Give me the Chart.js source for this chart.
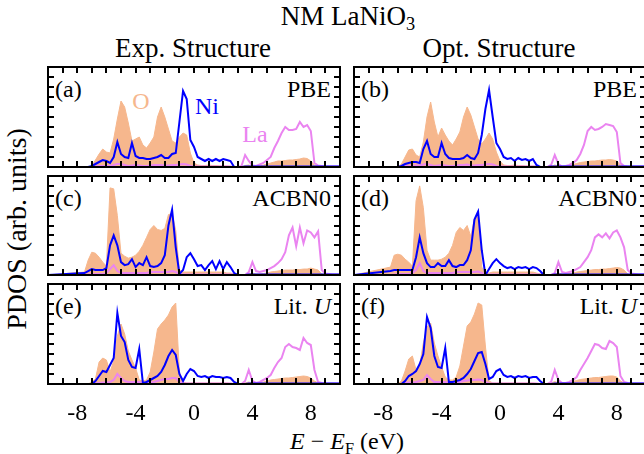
<!DOCTYPE html>
<html><head><meta charset="utf-8">
<script src="https://cdn.jsdelivr.net/npm/chart.js@4"></script>
<style>
html,body{margin:0;padding:0;background:#fff;}
body{width:644px;height:454px;overflow:hidden;position:relative;font-family:"Liberation Serif","Times New Roman",serif;}
.t{position:absolute;white-space:nowrap;color:#000;font-size:24px;line-height:1;}
.c{transform:translate(-50%,-50%);}
.r{transform:translateX(-100%);}
sub{font-size:0.68em;vertical-align:-0.3em;line-height:0;}
canvas{position:absolute;}
</style></head><body>
<div class="t c" style="left:348px;top:16px;font-size:27px;">NM LaNiO<sub>3</sub></div>
<div class="t c" style="left:193px;top:48px;font-size:27px;">Exp. Structure</div>
<div class="t c" style="left:499px;top:48px;font-size:27px;">Opt. Structure</div>
<div class="t" style="left:17px;top:229px;font-size:28px;transform:translate(-50%,-50%) rotate(-90deg);">PDOS (arb. units)</div>
<div class="t c" style="left:347px;top:441px;"><i>E</i> − <i>E</i><sub>F</sub> (eV)</div>
<div id="labels"></div>
<script>
const energy = [-10,
 -7.5,-7.25,-7,-6.75,-6.5,-6.25,-6,-5.75,
 -5.5,-5.25,-5,-4.75,-4.5,-4.25,-4,-3.75,
 -3.5,-3.25,-3,-2.75,-2.5,-2.25,-2,-1.75,
 -1.5,-1.25,-1,-0.75,-0.5,-0.25,0,0.25,
 0.5,0.75,1,1.25,1.5,1.75,2,2.25,
 2.5,2.75,3,3.25,3.5,3.75,4,4.25,
 4.5,4.75,5,5.25,5.5,5.75,6,6.25,
 6.5,6.75,7,7.25,7.5,7.75,8,8.25,
 8.5,8.75,9,9.25,9.5,9.75,10];

const tickLabels = ["-8","-4","0","4","8"];
const panelLetters = ["(a)","(b)","(c)","(d)","(e)","(f)"];
const methods = ["PBE","PBE","ACBN0","ACBN0","Lit. <i>U</i>","Lit. <i>U</i>"];
const speciesNames = ["O","Ni","La"];

// (a) PBE, Exp.
const O_a = [0,
 0,0,0.1,0.7,1.3,1.8,1.5,1.4,
 2.8,4.8,6.6,6.0,4.4,2.6,2.8,3.0,
 2.2,1.9,2.4,3.0,5.0,6.0,5.0,3.8,
 2.6,2.4,3.0,3.4,3.2,1.4,0.4,0.2,
 0.15,0.15,0.2,0.15,0.15,0.1,0.1,0.1,
 0.05,0,0,0,0.15,0.2,0.05,0.05,
 0.1,0.2,0.3,0.4,0.5,0.6,0.6,0.65,
 0.7,0.7,0.75,0.8,0.9,0.85,0.6,0.2,
 0.1,0.05,0.05,0.05,0.05,0.05,0.05];
const Ni_a = [0,
 0,0,0.1,0.3,0.5,0.7,0.6,0.4,
 1.0,2.5,1.3,1.0,0.9,2.4,1.1,0.9,
 0.9,0.8,0.8,0.9,1.0,1.2,0.9,0.9,
 1.3,1.4,4.5,7.6,6.8,2.7,2.0,1.0,
 0.8,0.6,0.8,0.6,0.8,0.6,0.8,0.7,
 0.6,0,0,0,0.05,0.05,0.05,0.05,
 0.05,0.05,0.05,0.05,0.05,0.05,0.05,0.05,
 0.05,0.05,0.05,0.05,0.05,0.05,0.05,0.05,
 0.05,0.05,0.05,0.05,0.05,0.05,0.05];
const La_a = [0,
 0,0,0,0.05,0.1,0.1,0.1,0.1,
 0.2,0.3,0.3,0.2,0.1,0.15,0.2,0.15,
 0.1,0.1,0.15,0.2,0.2,0.2,0.15,0.15,
 0.2,0.2,0.25,0.3,0.25,0.1,0.05,0.05,
 0.05,0.05,0.05,0.05,0.05,0.05,0.05,0.05,
 0.05,0,0,0.1,1.2,0.6,0.15,0.1,
 0.25,0.4,0.7,1.0,1.9,2.6,3.4,4.0,
 3.7,3.7,3.8,4.5,4.0,4.2,3.6,0.4,
 0.15,0.1,0.05,0.05,0.05,0.05,0.05];

// (b) PBE, Opt.
const O_b = [0,
 0,0,0,0.3,1.0,1.7,1.8,1.2,
 1.0,2.5,5.0,6.5,4.5,3.0,3.9,3.2,
 2.6,2.2,2.8,3.5,5.0,6.0,5.2,4.0,
 2.8,2.3,2.8,3.4,2.8,1.5,0.6,0.2,
 0.15,0.15,0.2,0.15,0.15,0.1,0.1,0.1,
 0.05,0,0,0,0.05,0.2,0.1,0.05,
 0.1,0.15,0.25,0.35,0.45,0.5,0.55,0.6,
 0.6,0.65,0.7,0.7,0.75,0.7,0.6,0.2,
 0.1,0.05,0.05,0.05,0.05,0.05,0.05];
const Ni_b = [0,
 0,0,0,0.1,0.3,0.4,0.5,0.5,
 0.4,1.8,2.6,1.3,1.0,1.0,2.4,1.3,
 0.9,0.8,0.8,0.8,0.9,1.2,0.9,0.8,
 1.4,3.2,5.8,7.7,5.0,2.4,1.8,1.0,
 0.8,0.9,0.6,0.9,0.7,0.8,0.6,0.8,
 0.2,0,0,0,0.05,0.05,0.05,0.05,
 0.05,0.05,0.05,0.05,0.05,0.05,0.05,0.05,
 0.05,0.05,0.05,0.05,0.05,0.05,0.05,0.05,
 0.05,0.05,0.05,0.05,0.05,0.05,0.05];
const La_b = [0,
 0,0,0,0.05,0.1,0.1,0.15,0.15,
 0.15,0.25,0.3,0.2,0.1,0.15,0.2,0.15,
 0.1,0.1,0.15,0.2,0.2,0.25,0.15,0.15,
 0.2,0.2,0.25,0.3,0.25,0.1,0.05,0.05,
 0.05,0.05,0.05,0.05,0.05,0.05,0.05,0.05,
 0.05,0,0,0,0.2,1.2,0.3,0.05,
 0.1,0.2,0.4,0.7,1.3,2.2,3.6,4.0,
 3.7,3.8,4.0,4.3,4.2,4.1,3.5,0.4,
 0.1,0.05,0.05,0.05,0.05,0.05,0.05];

// (c) ACBN0, Exp.
const O_c = [0,
 0.3,1.5,2.3,2.2,1.8,1.3,0.9,8.8,
 8.7,6.0,2.2,1.9,1.7,1.8,2.0,2.4,
 3.0,3.8,4.6,5.0,4.6,4.5,4.7,6.1,
 6.2,4.5,0.5,0.3,0.3,0.3,0.3,0.3,
 0.3,0.3,0.3,0.3,0.3,0.3,0.3,0.2,
 0.2,0.1,0,0,0,0.1,0.2,0.1,
 0.1,0.15,0.2,0.3,0.35,0.4,0.45,0.5,
 0.5,0.5,0.55,0.55,0.6,0.6,0.7,0.6,
 0.5,0.1,0.05,0.05,0.05,0.05,0.05];
const Ni_c = [0,
 0.2,0.4,0.6,0.5,0.5,0.5,0.7,3.0,
 4.0,3.0,1.3,1.0,1.1,1.6,0.8,1.2,
 1.0,1.8,0.9,0.8,0.9,1.2,2.0,5.0,
 6.6,2.8,0.1,0.5,1.8,2.2,1.6,0.9,
 1.0,0.5,1.0,1.4,0.6,1.4,0.6,1.3,
 0.8,0.2,0,0,0,0.05,0.05,0.05,
 0.05,0.05,0.05,0.05,0.05,0.05,0.05,0.05,
 0.05,0.05,0.05,0.05,0.05,0.05,0.05,0.05,
 0.05,0.05,0.05,0.05,0.05,0.05,0.05];
const La_c = [0,
 0,0.05,0.1,0.1,0.1,0.1,0.2,0.6,
 1.0,0.4,0.2,0.2,0.2,0.2,0.2,0.2,
 0.2,0.2,0.3,0.3,0.3,0.3,0.3,0.3,
 0.4,0.3,0.05,0.05,0.05,0.05,0.05,0.05,
 0.05,0.05,0.05,0.05,0.05,0.05,0.05,0.05,
 0.05,0.05,0,0,0,0.3,1.3,0.4,
 0.3,0.4,0.5,0.7,0.9,1.2,1.6,2.3,
 4.0,4.8,2.9,4.8,3.2,4.5,4.3,3.8,
 4.4,0.5,0.15,0.1,0.05,0.05,0.05];

// (d) ACBN0, Opt.
const O_d = [0,
 0.8,2.0,2.1,2.0,1.6,1.3,0.9,7.5,
 9.0,6.8,2.5,1.5,1.5,1.5,1.6,1.8,
 2.2,3.0,4.3,4.8,4.5,5.0,3.9,5.7,
 6.1,0.8,0.2,0.2,0.3,0.3,0.3,0.3,
 0.3,0.3,0.3,0.3,0.3,0.3,0.3,0.3,
 0.2,0.1,0,0,0,0.1,0.2,0.1,
 0.1,0.15,0.2,0.3,0.35,0.4,0.45,0.5,
 0.55,0.55,0.6,0.6,0.65,0.7,0.75,0.7,
 0.5,0.1,0.05,0.05,0.05,0.05,0.05];
const Ni_d = [0,
 0.4,0.5,0.5,0.5,0.5,0.5,0.5,1.8,
 3.8,2.2,1.2,0.8,0.8,1.2,0.9,0.9,
 1.5,0.9,0.8,1.0,1.0,1.5,2.5,5.6,
 6.4,2.5,0,0.6,1.2,1.6,1.2,0.9,
 0.7,0.8,0.6,0.8,0.7,0.8,0.6,0.8,
 0.7,0.4,0,0,0,0.05,0.05,0.05,
 0.05,0.05,0.05,0.05,0.05,0.05,0.05,0.05,
 0.05,0.05,0.05,0.05,0.05,0.05,0.05,0.05,
 0.05,0.05,0.05,0.05,0.05,0.05,0.05];
const La_d = [0,
 0,0.05,0.1,0.1,0.1,0.1,0.2,0.5,
 1.2,0.4,0.2,0.2,0.2,0.2,0.2,0.2,
 0.2,0.2,0.3,0.3,0.3,0.3,0.3,0.3,
 0.35,0.2,0.05,0.05,0.05,0.05,0.05,0.05,
 0.05,0.05,0.05,0.05,0.05,0.05,0.05,0.05,
 0.05,0.05,0,0,0,0.2,1.3,0.3,
 0.2,0.3,0.4,0.6,0.8,1.3,1.8,2.5,
 3.8,4.1,3.8,4.2,3.7,4.3,4.5,3.8,
 2.8,0.5,0.15,0.1,0.05,0.05,0.05];

// (e) Lit. U, Exp.
const O_e = [0,
 0,0,0.2,0.5,2.2,2.6,2.4,1.2,
 2.3,4.8,6.0,5.0,3.3,2.4,1.6,0.4,
 0.3,0.4,1.2,3.2,5.5,6.0,6.4,6.9,
 7.7,8.1,1.2,0.2,0.1,0.1,0.1,0.1,
 0.1,0.1,0.1,0.1,0.1,0.1,0.1,0.1,
 0.05,0,0,0,0.1,0.2,0.1,0.05,
 0.1,0.2,0.3,0.4,0.45,0.5,0.55,0.6,
 0.6,0.65,0.7,0.75,0.8,0.75,0.6,0.3,
 0.1,0.05,0.05,0.05,0.05,0.05,0.05];
const Ni_e = [0,
 0,0,0,0.3,0.8,1.3,1.2,1.9,
 2.6,7.1,4.8,4.2,2.4,1.7,1.6,3.5,
 0.1,0.2,0.4,0.6,0.8,1.2,1.9,2.8,
 3.4,2.9,1.0,0.3,1.0,1.5,1.3,0.8,
 0.7,0.8,0.6,0.8,0.7,0.7,0.6,0.7,
 0.6,0.2,0,0,0,0.05,0.05,0.05,
 0.05,0.05,0.05,0.05,0.05,0.05,0.05,0.05,
 0.05,0.05,0.05,0.05,0.05,0.05,0.05,0.05,
 0.05,0.05,0.05,0.05,0.05,0.05,0.05];
const La_e = [0,
 0,0,0,0.05,0.1,0.15,0.15,0.2,
 0.4,1.0,0.6,0.3,0.2,0.2,0.2,0.2,
 0.1,0.1,0.15,0.2,0.3,0.4,0.5,0.5,
 0.6,0.6,0.2,0.05,0.05,0.05,0.05,0.05,
 0.05,0.05,0.05,0.05,0.05,0.05,0.05,0.05,
 0.05,0,0,0,0.3,1.4,0.3,0.1,
 0.2,0.4,0.6,0.9,1.6,2.2,2.6,3.7,
 4.0,3.7,3.6,3.4,4.6,4.1,3.9,1.4,
 0.2,0.1,0.05,0.05,0.05,0.05,0.05];

// (f) Lit. U, Opt.
const O_f = [0,
 0,0,0,0.3,1.3,2.5,2.8,1.4,
 1.9,4.1,5.7,6.1,4.1,2.8,1.7,0.7,
 0.4,0.4,0.7,1.8,3.8,5.8,6.2,7.0,
 8.1,7.9,3.8,0.3,0.1,0.1,0.1,0.1,
 0.1,0.1,0.1,0.1,0.1,0.1,0.1,0.1,
 0.05,0,0,0,0.1,0.25,0.1,0.05,
 0.1,0.15,0.25,0.35,0.45,0.5,0.55,0.6,
 0.65,0.65,0.7,0.75,0.8,0.8,0.7,0.3,
 0.1,0.05,0.05,0.05,0.05,0.05,0.05];
const Ni_f = [0,
 0,0,0,0,0.3,0.8,1.0,1.3,
 2.0,3.0,6.7,5.6,2.8,1.7,1.6,3.6,
 0.2,0.2,0.3,0.4,0.6,1.0,1.5,2.3,
 3.1,3.2,2.0,0.5,0.7,1.3,1.5,0.9,
 0.7,0.8,0.6,0.8,0.7,0.8,0.6,0.7,
 0.7,0.3,0,0,0,0.05,0.05,0.05,
 0.05,0.05,0.05,0.05,0.05,0.05,0.05,0.05,
 0.05,0.05,0.05,0.05,0.05,0.05,0.05,0.05,
 0.05,0.05,0.05,0.05,0.05,0.05,0.05];
const La_f = [0,
 0,0,0,0,0.1,0.15,0.15,0.2,
 0.3,0.4,0.9,0.5,0.2,0.2,0.2,0.2,
 0.1,0.1,0.15,0.2,0.3,0.35,0.4,0.4,
 0.45,0.4,0.2,0.05,0.05,0.05,0.05,0.05,
 0.05,0.05,0.05,0.05,0.05,0.05,0.05,0.05,
 0.05,0,0,0,0.2,1.4,0.4,0.1,
 0.1,0.2,0.4,0.7,1.4,2.0,2.6,3.3,
 4.0,3.9,3.6,3.5,4.3,4.1,3.7,0.8,
 0.2,0.1,0.05,0.05,0.05,0.05,0.05];

const O_COLOR = '#F6B78D', NI_COLOR = '#0000FF', LA_COLOR = '#EA84F0';

const colLeft = [48, 354], panelW = 292;
const rowTop = [67, 176, 284], rowH = [100, 99, 100];
const panels = [
  [O_a,Ni_a,La_a],[O_b,Ni_b,La_b],
  [O_c,Ni_c,La_c],[O_d,Ni_d,La_d],
  [O_e,Ni_e,La_e],[O_f,Ni_f,La_f]
];

const TL = 6;
const framePlugin = {
  id:'frame',
  afterDatasetsDraw(chart){
    const {ctx, chartArea:a, scales:{x, y}} = chart;
    ctx.save();
    ctx.strokeStyle = '#000'; ctx.lineWidth = 2;
    ctx.beginPath();
    x.ticks.forEach(t => {
      if (t.value <= x.min || t.value >= x.max) return;
      const px = Math.round(x.getPixelForValue(t.value));
      ctx.moveTo(px, a.top); ctx.lineTo(px, a.top + TL);
      ctx.moveTo(px, a.bottom); ctx.lineTo(px, a.bottom - TL);
    });
    y.ticks.forEach(t => {
      if (t.value <= y.min || t.value >= y.max) return;
      const py = Math.round(y.getPixelForValue(t.value));
      ctx.moveTo(a.left, py); ctx.lineTo(a.left + TL, py);
      ctx.moveTo(a.right, py); ctx.lineTo(a.right - TL, py);
    });
    ctx.stroke();
    ctx.strokeRect(a.left, a.top, a.right - a.left, a.bottom - a.top);
    ctx.restore();
  }
};

function pts(vals){ return energy.map((e,i)=>({x:e, y:vals[i]})); }

const PAD = 4, XH = 48;
const labelsDiv = document.getElementById('labels');
panels.forEach((p, idx) => {
  const r = Math.floor(idx/2), c = idx % 2;
  const left = colLeft[c], top = rowTop[r], h = rowH[r];
  const bottomRow = r === 2;
  const cv = document.createElement('canvas');
  const cw = panelW + 2*PAD, ch = PAD + h + (bottomRow ? XH : PAD);
  cv.width = cw; cv.height = ch;
  cv.style.width = cw+'px'; cv.style.height = ch+'px';
  cv.style.left = (left-PAD)+'px'; cv.style.top = (top-PAD)+'px';
  document.body.appendChild(cv);
  const [O, Ni, La] = p;
  new Chart(cv, {
    type:'line',
    data:{datasets:[
      {label:'Ni', data:pts(Ni), borderColor:NI_COLOR, borderWidth:2, pointRadius:0, fill:false, tension:0},
      {label:'La', data:pts(La), borderColor:LA_COLOR, borderWidth:2, pointRadius:0, fill:false, tension:0},
      {label:'O', data:pts(O), borderColor:O_COLOR, borderWidth:1, backgroundColor:O_COLOR, pointRadius:0, fill:'origin', tension:0}
    ]},
    options:{
      responsive:false, animation:false, events:[],
      layout:{padding:{left:PAD, right:PAD, top:PAD, bottom: bottomRow ? 0 : PAD}},
      plugins:{legend:{display:false}, tooltip:{enabled:false}},
      scales:{
        x:{type:'linear', min:-10, max:10,
           grid:{display:false, drawTicks:false}, border:{display:false},
           ticks:{display:bottomRow, stepSize:1, autoSkip:false, maxRotation:0, minRotation:0, padding:15,
                  color:'#000', font:{family:'Liberation Serif', size:24},
                  callback:(v)=> { const s = String(v); return tickLabels.includes(s) ? s : ''; }},
           afterFit:(s)=>{ s.height = bottomRow ? XH : 0; s.paddingLeft = 0; s.paddingRight = 0; }},
        y:{type:'linear', min:0, max:10,
           grid:{display:false, drawTicks:false}, border:{display:false},
           ticks:{display:false, stepSize:1},
           afterFit:(s)=>{ s.width = 0; }}
      }
    },
    plugins:[framePlugin]
  });
  const l1 = document.createElement('div');
  l1.className = 't'; l1.style.left = (left+7)+'px'; l1.style.top = (top+10)+'px';
  l1.textContent = panelLetters[idx];
  labelsDiv.appendChild(l1);
  const l2 = document.createElement('div');
  l2.className = 't r'; l2.style.left = (left+panelW-9)+'px'; l2.style.top = (top+10)+'px';
  l2.innerHTML = methods[idx];
  labelsDiv.appendChild(l2);
});

const speciesPos = [[141,101,O_COLOR],[207,106,NI_COLOR],[255,134,LA_COLOR]];
speciesNames.forEach((n,i)=>{
  const d = document.createElement('div');
  d.className = 't c';
  d.style.left = speciesPos[i][0]+'px'; d.style.top = speciesPos[i][1]+'px';
  d.style.color = speciesPos[i][2];
  d.textContent = n;
  labelsDiv.appendChild(d);
});
</script>
</body></html>
